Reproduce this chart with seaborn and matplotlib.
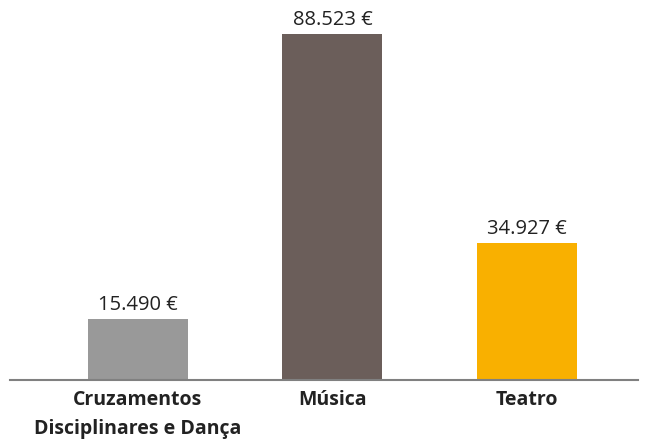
import pandas as pd
import matplotlib.pyplot as plt
import seaborn as sns

categories = ["Cruzamentos\nDisciplinares e Dança", "Música", "Teatro"]
values = [15490, 88523, 34927]
colors = ["#999999", "#6b5e5a", "#f9b000"]

df = pd.DataFrame({"categoria": categories, "valor": values})

sns.set_style("white")
plt.rcParams["font.family"] = ["Open Sans", "DejaVu Sans"]

fig = plt.figure(figsize=(6.53, 4.41), dpi=100)
ax = fig.add_axes([10 / 653, 61 / 441, 628 / 653, 380 / 441])

sns.barplot(data=df, x="categoria", y="valor", hue="categoria", palette=colors,
            width=0.514, saturation=1, linewidth=0, legend=False, ax=ax)

for i, v in enumerate(values):
    txt = f"{v:,}".replace(",", ".") + " €"
    ax.annotate(txt, (i, v), xytext=(0, 3), textcoords="offset points",
                ha="center", va="bottom", fontsize=14.5, color="#222222")

ax.set_xlim(-0.658, 2.571)
ax.set_ylim(0, 97222)
ax.set_xlabel("")
ax.set_ylabel("")
ax.set_yticks([])
ax.tick_params(axis="x", length=0, pad=7)
for lab in ax.get_xticklabels():
    lab.set_fontweight("bold")
    lab.set_fontsize(14)
    lab.set_color("#222222")
    lab.set_linespacing(1.6)
    lab.set_verticalalignment("top")

for s in ["top", "right", "left"]:
    ax.spines[s].set_visible(False)
ax.spines["bottom"].set_color("#808080")
ax.spines["bottom"].set_linewidth(1.5)

fig.savefig("out.png", dpi=100)
